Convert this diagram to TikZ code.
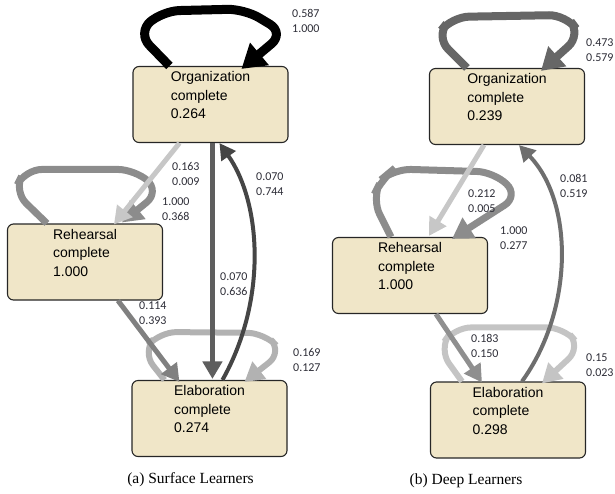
\documentclass[tikz,border=0pt]{standalone}
\usepackage{fontspec}
\setmainfont{Liberation Sans}
\newfontfamily\lblfont{Carlito}
\newfontfamily\capfont{Liberation Serif}
\usetikzlibrary{arrows.meta,calc}

\definecolor{boxfill}{RGB}{240,230,200}
\definecolor{lblgray}{RGB}{45,45,55}

\tikzset{
  state/.style={draw=black!85, line width=1.1pt, rounded corners=6pt, fill=boxfill,
    minimum width=155pt, minimum height=76pt, inner sep=0pt, align=left,
    font=\fontsize{14}{18.5}\selectfont},
  prob/.style={anchor=west, align=left, inner sep=0pt, text=lblgray,
    font=\lblfont\fontsize{12}{15}\selectfont},
  caption/.style={inner sep=0pt, font=\capfont\fontsize{15.5}{18}\selectfont},
  flow/.style={line width=#1, -{Triangle[length=10pt 1.5, width=8pt 2.2]}},
  selfflow/.style={flow=#1, rounded corners=17pt}
}

\begin{document}
\begin{tikzpicture}[x=1pt, y=-1pt]
\useasboundingbox (0,0) rectangle (615,493);

% (a) surface learners
\node[state] (orgS) at (210.5,104.5) {Organization\\complete\\0.264\\ \mbox{}};
\node[state] (rehS) at (85,262) {Rehearsal\\complete\\1.000\\ \mbox{}};
\node[state] (elaS) at (209.5,418.5) {Elaboration\\complete\\0.274\\ \mbox{}};

\draw[selfflow=9pt, black] ($(orgS.north west)+(37,0)$) -- ++(-32,-33) -- ++(25,-22)
  -- ++(82,-2) -- ++(40,24) -- ($(orgS.north west)+(109,3)$);
\draw[selfflow=7pt, black!45] ($(rehS.north west)+(40,0)$) -- ++(-33,-32) -- ++(11,-22)
  -- ++(110,0) -- ++(25,22) -- ($(rehS.north west)+(115,-1)$);
\draw[selfflow=6pt, black!30] ($(elaS.north west)+(33,0)$) -- ++(-22,-28) -- ++(17,-20)
  -- ++(105,1) -- ++(18,19) -- ($(elaS.north west)+(113,2)$);

\draw[flow=5pt, black!22] ($(orgS.south west)+(47,0)$) -- ($(rehS.north west)+(107,1)$);
\draw[flow=5pt, black!50] ($(rehS.south west)+(111,0)$) -- ($(elaS.north west)+(48,2)$);
\draw[flow=5pt, black!63] ($(orgS.south west)+(80,0)$) -- ($(elaS.north west)+(81,-1)$);
\draw[flow=4pt, black!73] ($(elaS.north west)+(91,0)$) .. controls +(45,-80) and +(42,60)
  .. ($(orgS.south west)+(87,0)$);

\node[prob] (pOOs) at (292,21) {0.587\\1.000};
\node[prob] (pORs) at (172,173.5) {0.163\\0.009};
\node[prob] (pRRs) at (162,209.5) {1.000\\0.368};
\node[prob] (pEOs) at (256,184) {0.070\\0.744};
\node[prob] (pOEs) at (220,284.5) {0.070\\0.636};
\node[prob] (pREs) at (139,313.5) {0.114\\0.393};
\node[prob] (pEEs) at (293,360) {0.169\\0.127};

\node[caption] (capS) at (190.5,480) {(a) Surface Learners};

% (b) deep learners
\node[state] (orgD) at (507,106.5) {Organization\\complete\\0.239\\ \mbox{}};
\node[state] (rehD) at (410,275.5) {Rehearsal\\complete\\1.000\\ \mbox{}};
\node[state] (elaD) at (508,420) {Elaboration\\complete\\0.298\\ \mbox{}};

\draw[selfflow=8pt, black!60] ($(orgD.north west)+(38,0)$) -- ++(-31,-31) -- ++(16,-20)
  -- ++(114,-2) -- ++(15,20) -- ($(orgD.north west)+(112,3)$);
\draw[selfflow=7pt, black!45] ($(rehD.north west)+(59,0)$) -- ++(-19,-38) -- ++(10,-20)
  -- ++(12,-10) -- ++(100,3) -- ++(25,24) -- ($(rehD.north west)+(120,2)$);
\draw[selfflow=6pt, black!23] ($(elaD.north west)+(32,0)$) -- ++(-23,-32) -- ++(15,-22)
  -- ++(110,0) -- ++(17,20) -- ($(elaD.north west)+(112,2)$);

\draw[flow=5pt, black!22] ($(orgD.south west)+(55,0)$) -- ($(rehD.north west)+(97,-1)$);
\draw[flow=5pt, black!44] ($(rehD.south west)+(104,0)$) -- ($(elaD.north west)+(52,1)$);
\draw[flow=4pt, black!57] ($(elaD.north west)+(92,0)$) .. controls +(52,-72) and +(55,57)
  .. ($(orgD.south west)+(90,0)$);

\node[prob] (pOOd) at (586,50.5) {0.473\\0.579};
\node[prob] (pORd) at (468,201) {0.212\\0.005};
\node[prob] (pRRd) at (500,238.5) {1.000\\0.277};
\node[prob] (pEOd) at (560,185.5) {0.081\\0.519};
\node[prob] (pREd) at (471,345.5) {0.183\\0.150};
\node[prob] (pEEd) at (586,365.5) {0.15\\0.023};

\node[caption] (capD) at (466,481) {(b) Deep Learners};
\end{tikzpicture}
\end{document}
